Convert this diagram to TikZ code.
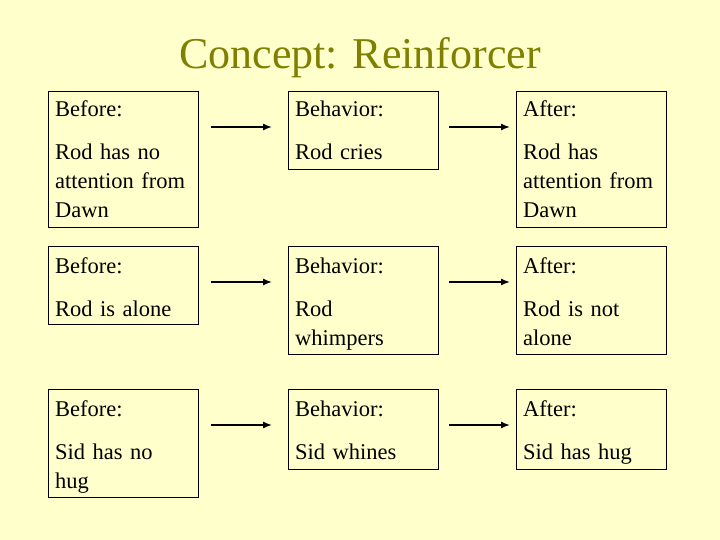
\documentclass[tikz,border=0pt]{standalone}
\usepackage{fontspec}
\setmainfont{Liberation Serif}
\usetikzlibrary{arrows.meta}
\begin{document}
\begin{tikzpicture}[x=1pt,y=-1pt,
  box/.style={draw=black,line width=0.8pt,inner sep=0pt,anchor=north west},
  txt/.style={anchor=base west,inner sep=0pt,font=\fontsize{22.5}{29}\selectfont,text width=145pt,align=left},
  arr/.style={-{Latex[length=9pt,width=7pt]},line width=1.4pt}]
\fill[fill={rgb,255:red,255;green,255;blue,204}] (0,0) rectangle (720,540);
\useasboundingbox (0,0) rectangle (720,540);
\node[anchor=base,inner sep=0pt,font=\fontsize{44}{50}\selectfont,text={rgb,255:red,128;green,128;blue,0}] (title) at (360,69) {Concept: Reinforcer};
% row 1
\node[box,minimum width=150pt,minimum height=136pt] (b1) at (48,91) {};
\node[box,minimum width=150pt,minimum height=78pt] (h1) at (288,91) {};
\node[box,minimum width=150pt,minimum height=136pt] (a1) at (516,91) {};
% row 2
\node[box,minimum width=150pt,minimum height=78pt] (b2) at (48,246) {};
\node[box,minimum width=150pt,minimum height=108pt] (h2) at (288,246) {};
\node[box,minimum width=150pt,minimum height=108pt] (a2) at (516,246) {};
% row 3
\node[box,minimum width=150pt,minimum height=108pt] (b3) at (48,389) {};
\node[box,minimum width=150pt,minimum height=80pt] (h3) at (288,389) {};
\node[box,minimum width=150pt,minimum height=80pt] (a3) at (516,389) {};
% texts
\node[txt] (t1) at (55,117) {Before:};
\node[txt] (t2) at (55,160) {Rod has no\\attention from\\Dawn};
\node[txt] (t3) at (295,117) {Behavior:};
\node[txt] (t4) at (295,160) {Rod cries};
\node[txt] (t5) at (523,117) {After:};
\node[txt] (t6) at (523,160) {Rod has\\attention from\\Dawn};
\node[txt] (t7) at (55,273) {Before:};
\node[txt] (t8) at (55,316) {Rod is alone};
\node[txt] (t9) at (295,273) {Behavior:};
\node[txt] (t10) at (295,316) {Rod\\whimpers};
\node[txt] (t11) at (523,273) {After:};
\node[txt] (t12) at (523,316) {Rod is not\\alone};
\node[txt] (t13) at (55,416) {Before:};
\node[txt] (t14) at (55,459) {Sid has no\\hug};
\node[txt] (t15) at (295,416) {Behavior:};
\node[txt] (t16) at (295,459) {Sid whines};
\node[txt] (t17) at (523,416) {After:};
\node[txt] (t18) at (523,459) {Sid has hug};
% arrows
\foreach \y/\n in {127/1,282/2,425/3}{
  \coordinate (p\n) at (211,\y); \coordinate (q\n) at (272,\y);
  \coordinate (r\n) at (449,\y); \coordinate (s\n) at (510,\y);
  \draw[arr] (p\n) -- (q\n);
  \draw[arr] (r\n) -- (s\n);
}
\end{tikzpicture}
\end{document}
